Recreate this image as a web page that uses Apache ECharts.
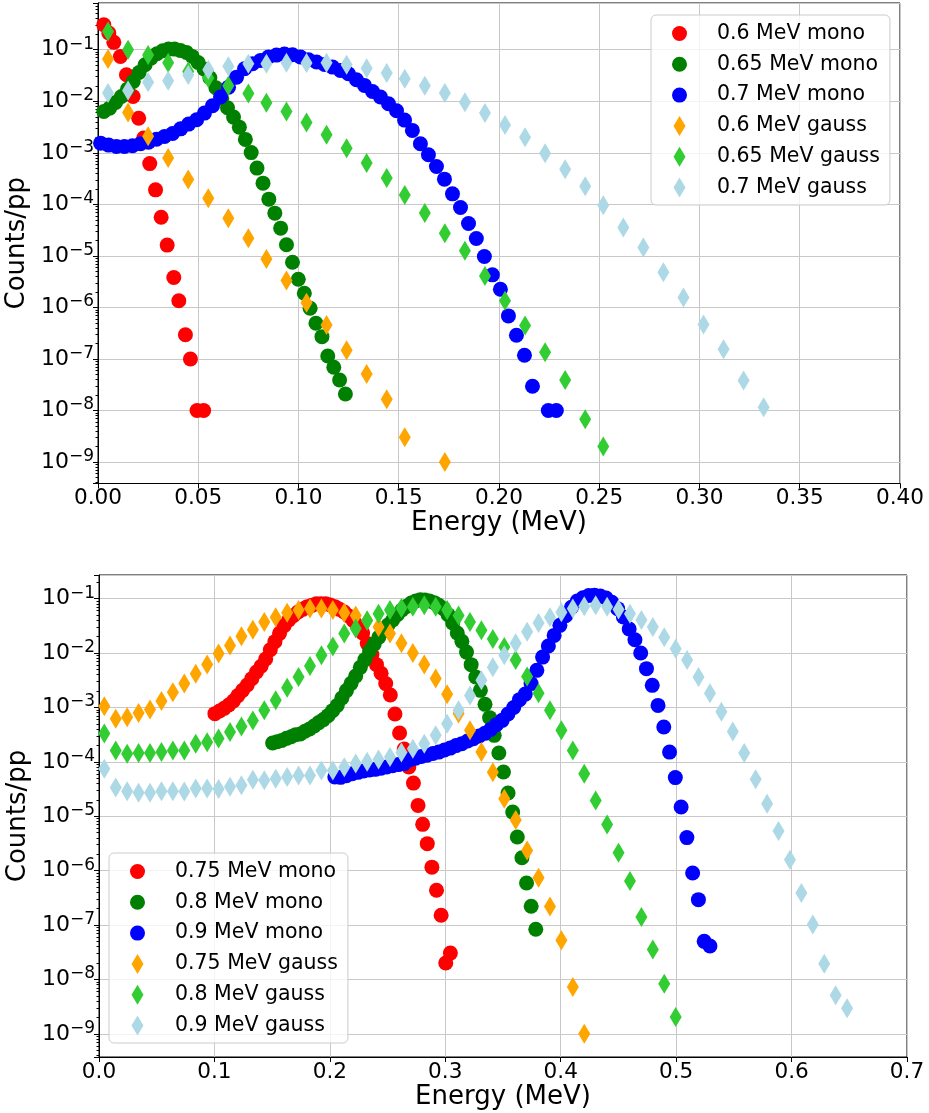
<!DOCTYPE html>
<html>
<head>
<meta charset="utf-8">
<style>
html, body { margin: 0; padding: 0; background: #fff; }
#container { width: 929px; height: 1113px; }
</style>
<script src="https://cdn.jsdelivr.net/npm/echarts@6/dist/echarts.min.js"></script>
</head>
<body>
<div id="container"></div>
<script>
// ---- upper panel (0.6 / 0.65 / 0.7 MeV) ----
var topRedMonoX = [0.0029, 0.0054, 0.0079, 0.0112, 0.0142, 0.0175, 0.0203, 0.0228, 0.0258, 0.0287, 0.0315, 0.0345, 0.0378, 0.0403, 0.0436, 0.0461, 0.0494, 0.0527];
var topRedMonoY = [0.305, 0.211, 0.139, 0.0741, 0.0327, 0.0124, 4.68e-3, 1.93e-3, 6.17e-4, 1.91e-4, 5.62e-5, 1.62e-5, 3.80e-6, 1.35e-6, 2.95e-7, 1.0e-7, 1e-8, 1e-8];

var topGreenMonoX = [0.0029, 0.0058, 0.0088, 0.0117, 0.0147, 0.0176, 0.0205, 0.0235, 0.0264, 0.0294, 0.0323, 0.0352, 0.0382, 0.0411, 0.0441, 0.0470, 0.0499, 0.0529, 0.0558, 0.0588, 0.0617, 0.0646, 0.0676, 0.0705, 0.0735, 0.0764, 0.0793, 0.0823, 0.0852, 0.0882, 0.0911, 0.0940, 0.0970, 0.0999, 0.1029, 0.1058, 0.1087, 0.1117, 0.1146, 0.1176, 0.1205, 0.1234];
var topGreenMonoY = [6.34e-3, 7.36e-3, 9.48e-3, 1.24e-2, 1.72e-2, 2.43e-2, 3.62e-2, 5.12e-2, 6.89e-2, 8.36e-2, 9.57e-2, 1.03e-1, 1.03e-1, 9.70e-2, 8.87e-2, 7.43e-2, 5.67e-2, 4.22e-2, 2.86e-2, 1.83e-2, 1.14e-2, 7.48e-3, 4.93e-3, 3.15e-3, 1.82e-3, 1.01e-3, 5.05e-4, 2.58e-4, 1.26e-4, 6.75e-5, 3.45e-5, 1.64e-5, 7.53e-6, 3.52e-6, 1.88e-6, 9.64e-7, 4.93e-7, 2.71e-7, 1.14e-7, 6.90e-8, 3.91e-8, 2.09e-8];

var topBlueMonoX = [0.0013, 0.0053, 0.0092, 0.0132, 0.0172, 0.0212, 0.0252, 0.0292, 0.0332, 0.0372, 0.0412, 0.0452, 0.0492, 0.0531, 0.0571, 0.0611, 0.0651, 0.0691, 0.0731, 0.0771, 0.0811, 0.0850, 0.0890, 0.0930, 0.0970, 0.1010, 0.1050, 0.1090, 0.1130, 0.1170, 0.1209, 0.1249, 0.1289, 0.1329, 0.1369, 0.1409, 0.1449, 0.1489, 0.1529, 0.1568, 0.1608, 0.1648, 0.1688, 0.1728, 0.1768, 0.1808, 0.1848, 0.1887, 0.1927, 0.1967, 0.2007, 0.2047, 0.2087, 0.2127, 0.2167, 0.2246, 0.2286];
var topBlueMonoY = [1.54e-3, 1.41e-3, 1.33e-3, 1.33e-3, 1.37e-3, 1.50e-3, 1.61e-3, 1.84e-3, 2.07e-3, 2.37e-3, 2.92e-3, 3.61e-3, 4.38e-3, 5.90e-3, 8.18e-3, 1.21e-2, 1.88e-2, 2.94e-2, 4.28e-2, 5.35e-2, 6.21e-2, 7.21e-2, 7.87e-2, 8.24e-2, 8.00e-2, 7.21e-2, 6.40e-2, 5.77e-2, 5.19e-2, 4.60e-2, 3.97e-2, 3.42e-2, 2.61e-2, 2.03e-2, 1.55e-2, 1.21e-2, 8.93e-3, 6.55e-3, 4.31e-3, 2.72e-3, 1.50e-3, 9.14e-4, 5.42e-4, 3.08e-4, 1.60e-4, 8.67e-5, 4.24e-5, 2.17e-5, 9.70e-6, 4.28e-6, 2.25e-6, 6.84e-7, 2.88e-7, 1.18e-7, 2.95e-8, 1e-8, 1e-8];

var topGaussX = [0.005, 0.015, 0.025, 0.035, 0.045, 0.055, 0.065, 0.075, 0.084, 0.094, 0.104, 0.114, 0.124, 0.134, 0.144, 0.153, 0.163, 0.173, 0.183, 0.193, 0.203, 0.213, 0.223, 0.233, 0.243, 0.252, 0.262, 0.272, 0.282, 0.292, 0.302, 0.312, 0.322, 0.332];
var topOrangeGaussY = [6.61e-2, 6.03e-3, 2.09e-3, 7.94e-4, 3.02e-4, 1.32e-4, 5.37e-5, 2.19e-5, 8.71e-6, 3.31e-6, 1.23e-6, 4.57e-7, 1.48e-7, 5.13e-8, 1.66e-8, 3.02e-9, null, 1e-9];
var topGreenGaussY = [0.226, 0.1, 7.94e-2, 5.62e-2, 3.80e-2, 2.82e-2, 2.0e-2, 1.41e-2, 9.33e-3, 6.31e-3, 3.89e-3, 2.24e-3, 1.23e-3, 6.31e-4, 3.24e-4, 1.51e-4, 6.76e-5, 2.75e-5, 1.26e-5, 4.07e-6, 1.35e-6, 4.47e-7, 1.35e-7, 3.89e-8, 6.76e-9, 2.0e-9];
var topLightGaussY = [1.45e-2, 1.62e-2, 2.34e-2, 2.51e-2, 3.24e-2, 4.07e-2, 4.79e-2, 5.37e-2, 5.37e-2, 5.62e-2, 5.50e-2, 5.62e-2, 5.13e-2, 4.37e-2, 3.55e-2, 2.75e-2, 2.0e-2, 1.45e-2, 9.55e-3, 5.89e-3, 3.47e-3, 2.0e-3, 9.77e-4, 4.79e-4, 2.24e-4, 9.55e-5, 3.55e-5, 1.45e-5, 4.79e-6, 1.55e-6, 4.68e-7, 1.55e-7, 3.80e-8, 1.15e-8];

// ---- lower panel (0.75 / 0.8 / 0.9 MeV) ----
var botRedMonoX = [0.1004, 0.1044, 0.1084, 0.1124, 0.1164, 0.1204, 0.1244, 0.1284, 0.1324, 0.1364, 0.1404, 0.1444, 0.1484, 0.1524, 0.1564, 0.1604, 0.1644, 0.1684, 0.1724, 0.1764, 0.1804, 0.1844, 0.1884, 0.1924, 0.1964, 0.2004, 0.2044, 0.2084, 0.2124, 0.2164, 0.2204, 0.2244, 0.2284, 0.2324, 0.2364, 0.2404, 0.2444, 0.2484, 0.2524, 0.2564, 0.2604, 0.2644, 0.2684, 0.2724, 0.2764, 0.2804, 0.2844, 0.2884, 0.2924, 0.2964, 0.3004, 0.3044];
var botRedMonoY = [7.69e-4, 8.59e-4, 9.62e-4, 1.11e-3, 1.31e-3, 1.65e-3, 2.06e-3, 2.58e-3, 3.38e-3, 4.48e-3, 5.70e-3, 7.76e-3, 1.15e-2, 1.62e-2, 2.30e-2, 3.18e-2, 4.05e-2, 4.86e-2, 5.68e-2, 6.35e-2, 7.13e-2, 7.53e-2, 8.09e-2, 8.09e-2, 8.09e-2, 7.64e-2, 7.13e-2, 6.35e-2, 5.68e-2, 4.79e-2, 3.94e-2, 3.14e-2, 2.33e-2, 1.49e-2, 9.33e-3, 6.11e-3, 4.24e-3, 2.74e-3, 1.69e-3, 7.57e-4, 3.39e-4, 1.72e-4, 8.02e-5, 4.07e-5, 1.58e-5, 7.10e-6, 3.13e-6, 1.16e-6, 4.35e-7, 1.51e-7, 2.0e-8, 3.05e-8];

var botGreenMonoX = [0.1504, 0.1544, 0.1584, 0.1624, 0.1664, 0.1704, 0.1744, 0.1784, 0.1824, 0.1864, 0.1904, 0.1944, 0.1984, 0.2024, 0.2064, 0.2104, 0.2144, 0.2184, 0.2224, 0.2264, 0.2304, 0.2344, 0.2384, 0.2424, 0.2464, 0.2504, 0.2544, 0.2584, 0.2624, 0.2664, 0.2704, 0.2744, 0.2784, 0.2824, 0.2864, 0.2904, 0.2944, 0.2984, 0.3024, 0.3064, 0.3104, 0.3144, 0.3184, 0.3224, 0.3264, 0.3304, 0.3344, 0.3384, 0.3424, 0.3464, 0.3504, 0.3544, 0.3584, 0.3624, 0.3664, 0.3704, 0.3744, 0.3784];
var botGreenMonoY = [2.22e-4, 2.35e-4, 2.48e-4, 2.70e-4, 2.90e-4, 3.16e-4, 3.24e-4, 3.64e-4, 4.01e-4, 4.55e-4, 5.26e-4, 5.97e-4, 7.06e-4, 8.73e-4, 1.09e-3, 1.49e-3, 2.04e-3, 2.77e-3, 3.78e-3, 5.46e-3, 7.57e-3, 1.09e-2, 1.46e-2, 1.95e-2, 2.54e-2, 3.27e-2, 4.05e-2, 5.08e-2, 6.17e-2, 7.21e-2, 8.30e-2, 9.04e-2, 9.59e-2, 9.42e-2, 9.04e-2, 8.43e-2, 7.53e-2, 6.55e-2, 5.08e-2, 3.56e-2, 2.33e-2, 1.64e-2, 1.04e-2, 6.11e-3, 3.62e-3, 2.06e-3, 1.14e-3, 6.49e-4, 3.07e-4, 1.45e-4, 6.49e-5, 2.67e-5, 1.19e-5, 4.15e-6, 1.73e-6, 5.92e-7, 2.21e-7, 8.34e-8];

var botBlueMonoX = [0.2043, 0.2093, 0.2143, 0.2193, 0.2243, 0.2293, 0.2343, 0.2393, 0.2443, 0.2493, 0.2543, 0.2593, 0.2643, 0.2693, 0.2743, 0.2793, 0.2843, 0.2893, 0.2943, 0.2993, 0.3043, 0.3093, 0.3143, 0.3193, 0.3243, 0.3293, 0.3343, 0.3393, 0.3443, 0.3493, 0.3543, 0.3593, 0.3643, 0.3693, 0.3743, 0.3793, 0.3843, 0.3893, 0.3943, 0.3993, 0.4043, 0.4093, 0.4143, 0.4193, 0.4243, 0.4293, 0.4343, 0.4393, 0.4443, 0.4493, 0.4543, 0.4593, 0.4643, 0.4693, 0.4743, 0.4793, 0.4843, 0.4893, 0.4943, 0.4993, 0.5043, 0.5093, 0.5143, 0.5193, 0.5243, 0.5293];
var botBlueMonoY = [5.26e-5, 5.19e-5, 5.57e-5, 6.07e-5, 6.41e-5, 6.78e-5, 7.06e-5, 7.28e-5, 7.60e-5, 8.02e-5, 8.51e-5, 8.89e-5, 9.27e-5, 1.10e-4, 1.17e-4, 1.25e-4, 1.32e-4, 1.42e-4, 1.51e-4, 1.65e-4, 1.79e-4, 1.99e-4, 2.16e-4, 2.41e-4, 2.67e-4, 2.98e-4, 3.34e-4, 3.95e-4, 4.83e-4, 5.79e-4, 7.57e-4, 1.00e-3, 1.39e-3, 1.76e-3, 2.74e-3, 4.81e-3, 8.43e-3, 1.35e-2, 2.11e-2, 3.23e-2, 4.86e-2, 6.92e-2, 9.04e-2, 1.04e-1, 1.14e-1, 1.15e-1, 1.12e-1, 1.03e-1, 8.55e-2, 6.55e-2, 4.59e-2, 2.76e-2, 1.76e-2, 1.0e-2, 5.16e-3, 2.55e-3, 1.09e-3, 4.37e-4, 1.51e-4, 5.13e-5, 1.48e-5, 4.05e-6, 9.03e-7, 2.93e-7, 5.01e-8, 4.11e-8];

var botGaussX = [0.0046, 0.0145, 0.0244, 0.0343, 0.0442, 0.0541, 0.0640, 0.0739, 0.0838, 0.0937, 0.1036, 0.1135, 0.1234, 0.1333, 0.1432, 0.1531, 0.1630, 0.1729, 0.1828, 0.1927, 0.2026, 0.2125, 0.2224, 0.2323, 0.2422, 0.2521, 0.2620, 0.2719, 0.2818, 0.2917, 0.3016, 0.3115, 0.3214, 0.3313, 0.3412, 0.3511, 0.3610, 0.3709, 0.3808, 0.3907, 0.4006, 0.4105, 0.4204, 0.4303, 0.4402, 0.4501, 0.4600, 0.4699, 0.4798, 0.4897, 0.4996, 0.5095, 0.5194, 0.5293, 0.5392, 0.5491, 0.5590, 0.5689, 0.5788, 0.5887, 0.5986, 0.6085, 0.6184, 0.6283, 0.6382, 0.6481];
var botOrangeGaussY = [1.05e-3, 6.17e-4, 6.61e-4, 7.94e-4, 9.12e-4, 1.32e-3, 1.91e-3, 2.75e-3, 4.17e-3, 6.17e-3, 9.77e-3, 1.38e-2, 2.04e-2, 2.69e-2, 3.72e-2, 4.57e-2, 5.50e-2, 6.17e-2, 6.61e-2, 6.61e-2, 6.17e-2, 5.50e-2, 4.90e-2, 3.98e-2, 3.02e-2, 2.29e-2, 1.51e-2, 1.0e-2, 6.17e-3, 3.39e-3, 1.74e-3, 7.76e-4, 3.80e-4, 1.51e-4, 6.46e-5, 2.09e-5, 8.51e-6, 2.34e-6, 7.41e-7, 2.19e-7, 5.25e-8, 7.24e-9, 1e-9];
var botGreenGaussY = [3.31e-4, 1.62e-4, 1.41e-4, 1.45e-4, 1.45e-4, 1.51e-4, 1.62e-4, 1.62e-4, 2.14e-4, 2.29e-4, 2.69e-4, 3.55e-4, 4.47e-4, 5.75e-4, 8.91e-4, 1.35e-3, 2.29e-3, 3.63e-3, 5.75e-3, 9.12e-3, 1.32e-2, 2.29e-2, 2.82e-2, 3.98e-2, 5.25e-2, 6.17e-2, 6.76e-2, 7.08e-2, 7.59e-2, 7.08e-2, 6.17e-2, 4.90e-2, 3.72e-2, 2.63e-2, 1.82e-2, 1.29e-2, 7.41e-3, 3.72e-3, 1.82e-3, 8.91e-4, 3.80e-4, 1.62e-4, 6.03e-5, 1.95e-5, 7.08e-6, 2.14e-6, 6.46e-7, 1.41e-7, 3.55e-8, 8.32e-9, 2.04e-9];
var botLightGaussY = [7.50e-5, 3.39e-5, 2.88e-5, 2.69e-5, 2.69e-5, 2.88e-5, 2.88e-5, 2.85e-5, 3.24e-5, 3.24e-5, 3.16e-5, 3.47e-5, 3.72e-5, 4.68e-5, 4.57e-5, 4.90e-5, 5.25e-5, 5.62e-5, 5.62e-5, 6.92e-5, 6.92e-5, 7.94e-5, 9.33e-5, 1.0e-4, 1.10e-4, 1.23e-4, 1.48e-4, 1.74e-4, 2.14e-4, 3.09e-4, 5.01e-4, 8.91e-4, 1.66e-3, 3.16e-3, 5.50e-3, 9.12e-3, 1.51e-2, 2.45e-2, 3.55e-2, 4.57e-2, 5.62e-2, 6.61e-2, 7.24e-2, 7.59e-2, 7.08e-2, 6.31e-2, 5.25e-2, 4.07e-2, 3.02e-2, 1.95e-2, 1.20e-2, 7.41e-3, 3.63e-3, 1.82e-3, 8.32e-4, 3.63e-4, 1.45e-4, 4.79e-5, 1.70e-5, 5.37e-6, 1.58e-6, 3.89e-7, 1.02e-7, 1.95e-8, 5.13e-9, 2.95e-9];

var topNames = ['0.6 MeV mono', '0.65 MeV mono', '0.7 MeV mono', '0.6 MeV gauss', '0.65 MeV gauss', '0.7 MeV gauss'];
var botNames = ['0.75 MeV mono', '0.8 MeV mono', '0.9 MeV mono', '0.75 MeV gauss', '0.8 MeV gauss', '0.9 MeV gauss'];
var colors = ['#ff0000', '#008000', '#0000ff', '#ffa500', '#32cd32', '#add8e6'];

var page = {
    font: 'DejaVu Sans',
    diamond: 'path://M6,0 L12,10 L6,20 L0,10 Z',
    init: function () {
        var chart = echarts.init(document.getElementById('container'), null, { renderer: 'canvas' });
        chart.setOption(this.buildOption());
    },
    // zip x / y lists, skip empty bins
    pairs: function (xs, ys) {
        var out = [];
        for (var i = 0; i < ys.length; i++) {
            if (ys[i] == null) continue;
            out.push([xs[i], ys[i]]);
        }
        return out;
    },
    series: function (name, idx, xs, ys, color, gauss) {
        return {
            name: name,
            type: 'scatter',
            xAxisIndex: idx,
            yAxisIndex: idx,
            symbol: gauss ? this.diamond : 'circle',
            symbolSize: gauss ? [12, 20] : 15,
            itemStyle: { color: color, opacity: 1 },
            emphasis: { disabled: true },
            data: this.pairs(xs, ys)
        };
    },
    logLabel: function (v) {
        var p = Math.round(Math.log(v) / Math.LN10);
        return '{b|10}{s|' + (p < 0 ? '\u2212' : '') + Math.abs(p) + '}';
    },
    xAxis: function (idx, max, interval, digits) {
        var f = this.font;
        return {
            type: 'value', gridIndex: idx, min: 0, max: max, interval: interval,
            name: 'Energy (MeV)', nameLocation: 'middle', nameGap: 27,
            nameTextStyle: { fontFamily: f, fontSize: 26, color: '#000' },
            axisLine: { show: true, lineStyle: { color: '#000', width: 1 } },
            axisTick: { show: true, length: 5, lineStyle: { color: '#000' } },
            axisLabel: { fontFamily: f, fontSize: 21.6, color: '#000', margin: 4,
                formatter: function (v) { return v.toFixed(digits); } },
            splitLine: { show: true, lineStyle: { color: '#c8c8c8', width: 1 } }
        };
    },
    yAxis: function (idx, min, max) {
        var f = this.font;
        return {
            type: 'log', logBase: 10, gridIndex: idx, min: min, max: max,
            name: 'Counts/pp', nameLocation: 'middle', nameGap: 60,
            nameTextStyle: { fontFamily: f, fontSize: 26, color: '#000' },
            axisLine: { show: true, lineStyle: { color: '#000', width: 1 } },
            axisTick: { show: true, length: 5, lineStyle: { color: '#000' } },
            minorTick: { show: true, splitNumber: 9, length: 2.5, lineStyle: { color: '#000' } },
            axisLabel: {
                margin: 4, showMinLabel: false, showMaxLabel: false,
                formatter: this.logLabel,
                rich: {
                    b: { fontFamily: f, fontSize: 22, color: '#000', padding: [3, 0, 3, 0] },
                    s: { fontFamily: f, fontSize: 17, color: '#000', verticalAlign: 'top' }
                }
            },
            splitLine: { show: true, lineStyle: { color: '#c8c8c8', width: 1 } }
        };
    },
    legend: function (names, left, top) {
        return {
            data: names, orient: 'vertical', left: left, top: top,
            itemWidth: 15, itemHeight: 20, itemGap: 9.8,
            padding: [8, 10, 7, 21],
            backgroundColor: 'rgba(255,255,255,0.8)',
            borderColor: '#cccccc', borderWidth: 1, borderRadius: 5,
            textStyle: { fontFamily: this.font, fontSize: 20.5, color: '#000', padding: [0, 0, 0, 25] },
            selectedMode: false
        };
    },
    buildOption: function () {
        var s = [];
        s.push(this.series(topNames[0], 0, topRedMonoX, topRedMonoY, colors[0], false));
        s.push(this.series(topNames[1], 0, topGreenMonoX, topGreenMonoY, colors[1], false));
        s.push(this.series(topNames[2], 0, topBlueMonoX, topBlueMonoY, colors[2], false));
        s.push(this.series(topNames[3], 0, topGaussX, topOrangeGaussY, colors[3], true));
        s.push(this.series(topNames[4], 0, topGaussX, topGreenGaussY, colors[4], true));
        s.push(this.series(topNames[5], 0, topGaussX, topLightGaussY, colors[5], true));
        s.push(this.series(botNames[0], 1, botRedMonoX, botRedMonoY, colors[0], false));
        s.push(this.series(botNames[1], 1, botGreenMonoX, botGreenMonoY, colors[1], false));
        s.push(this.series(botNames[2], 1, botBlueMonoX, botBlueMonoY, colors[2], false));
        s.push(this.series(botNames[3], 1, botGaussX, botOrangeGaussY, colors[3], true));
        s.push(this.series(botNames[4], 1, botGaussX, botGreenGaussY, colors[4], true));
        s.push(this.series(botNames[5], 1, botGaussX, botLightGaussY, colors[5], true));
        return {
            animation: false,
            backgroundColor: '#ffffff',
            grid: [
                { left: 98, top: 3, width: 802, height: 480.5, show: true, borderColor: '#000', borderWidth: 1,
                  backgroundColor: 'transparent', outerBoundsMode: 'none', containLabel: false },
                { left: 99, top: 575, width: 808, height: 482, show: true, borderColor: '#000', borderWidth: 1,
                  backgroundColor: 'transparent', outerBoundsMode: 'none', containLabel: false }
            ],
            xAxis: [this.xAxis(0, 0.4, 0.05, 2), this.xAxis(1, 0.7, 0.1, 1)],
            yAxis: [this.yAxis(0, 3.83e-10, 0.807), this.yAxis(1, 3.75e-10, 0.272)],
            legend: [this.legend(topNames, 651, 15), this.legend(botNames, 109, 853)],
            series: s
        };
    }
};

page.init();
</script>
</body>
</html>
